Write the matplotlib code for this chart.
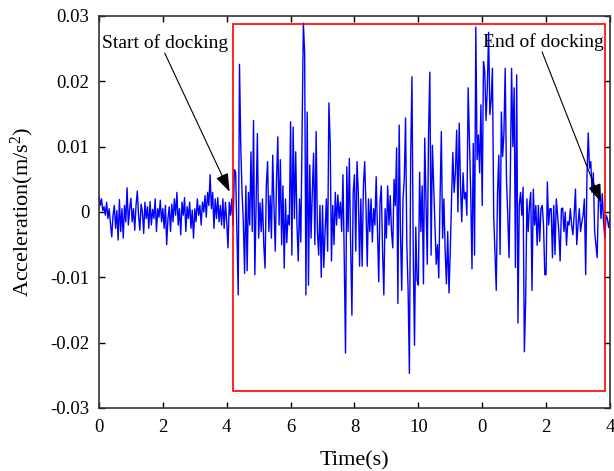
import matplotlib
matplotlib.use('Agg')
import matplotlib.pyplot as plt
from matplotlib.patches import Rectangle
import numpy as np

plt.rcParams['font.family'] = ['Liberation Serif', 'DejaVu Serif']
plt.rcParams['mathtext.fontset'] = 'custom'
plt.rcParams['mathtext.rm'] = 'Liberation Serif'
plt.rcParams['mathtext.it'] = 'Liberation Serif:italic'

# acceleration samples in 1e-3 m/s^2, dt = 0.04 s, one line per second
accel_milli = [
    2.5, 1.0, 2.0, 0.2, 0.8, -0.5, 1.5, -1.0, 0.5, -1.8, -3.8, -0.5, 1.0, -2.5, 0.2, -4.3, 1.9, -3.0, 0.5, -4.0, 1.0, -1.5, 3.7, -2.0, 0.5,
    2.1, -1.5, 0.5, -2.8, 1.0, 3.2, -0.5, -2.8, 1.2, 0.0, -3.3, 1.5, -1.0, 0.8, -2.5, 1.6, -2.0, 0.4, -1.0, 2.0, -3.0, 0.5, -0.8, 1.8, -1.5,
    0.5, -2.5, 1.0, -5.0, -1.0, 0.8, -3.0, 1.2, -1.5, 2.0, -0.5, 3.0, -2.0, 0.5, -3.5, 1.5, -0.5, 2.2, -3.0, 0.8, -1.0, 1.5, -2.5, 0.3, -4.0,
    0.5, -1.5, 2.0, -0.5, 1.0, -2.0, 1.5, 0.0, 2.5, -0.8, 3.0, 1.0, 5.7, 0.5, 3.0, -2.5, 2.0, -1.0, 2.2, -1.5, 1.0, -2.0, 2.0, -2.5, 1.5,
    -1.5, -5.5, 1.5, -0.5, 2.0, -2.0, 6.5, 6.0, -3.0, -12.7, 22.6, 10.0, 3.0, -1.5, -9.4, 4.0, -9.0, 3.0, -2.0, 9.2, -3.0, 14.0, -9.6, 1.0, 12.0,
    -4.0, 1.4, -3.0, 2.0, -5.0, -8.6, 4.0, 7.7, -3.0, 2.5, -4.0, 8.7, 1.0, -6.0, 5.0, 11.5, -2.0, 8.0, -5.0, 4.0, -8.6, 2.0, -4.7, -0.5, -2.0,
    13.8, -6.6, 13.0, -1.0, 9.2, -2.0, -7.5, 2.0, -4.6, 12.2, 28.9, 24.3, -12.7, 15.3, -11.2, 7.2, -4.0, 3.0, 9.0, -5.0, 12.3, -3.0, -6.6, 1.0, -10.0,
    1.0, -8.5, -3.0, 2.0, -6.0, 16.7, 10.6, -7.5, 1.0, -5.0, 3.0, -2.0, 2.6, -1.0, 1.5, -3.0, 5.7, -7.0, -21.6, 6.9, -3.0, 8.2, -5.0, -15.8, 3.0,
    5.7, -6.0, 7.7, 3.0, -8.3, 2.0, -8.3, 4.0, 7.7, 1.0, -8.3, 2.0, -3.0, 2.0, -4.6, 0.5, -2.0, 5.4, -3.0, -10.7, 1.5, 4.0, -6.0, -12.7, 0.5,
    -4.0, 4.0, -2.0, 2.5, -3.0, -5.5, 5.0, 1.0, 9.8, -14.0, 13.3, -3.0, -12.0, 2.0, 5.0, 14.4, -5.0, -12.0, -24.7, 8.3, 20.7, -6.0, -20.4, -2.3, -10.5,
    -11.2, 6.1, -3.0, 4.0, -11.0, 11.3, 2.0, -8.0, 12.2, 21.4, -6.6, 10.2, 4.0, -2.0, -8.0, -5.0, -10.1, 2.0, 12.3, -4.0, 2.0, -6.0, -11.0, -3.0, -12.4,
    -6.0, 2.0, 9.1, 3.0, 6.0, 12.5, 0.0, 13.6, 4.0, -1.5, 6.0, 2.0, 3.0, -0.5, 19.0, 11.0, 3.0, -8.7, 10.5, -6.6, 28.3, 8.0, 11.8, 6.0, 16.4,
    1.0, 23.0, 21.4, 14.0, 19.0, 27.5, 14.9, 17.0, 22.0, -0.5, -6.3, -12.0, 3.0, 8.7, -6.5, 15.3, 8.5, 12.0, 22.0, 5.0, -0.5, -7.0, 5.2, 22.0, 10.0,
    19.0, -8.5, 21.0, -17.0, 1.0, 3.0, -0.5, 3.8, -21.4, -13.8, 2.0, -3.0, 1.0, 3.0, -12.0, 3.5, -2.0, 1.0, -5.1, 1.0, -4.5, 0.5, 1.0, -2.0, -9.6,
    -9.6, 4.6, -2.0, 0.5, 0.5, -7.0, 1.0, -6.5, 2.0, -0.5, -3.0, -7.5, 0.5, 0.6, -3.0, 0.0, -5.1, -1.5, -2.0, 0.5, -2.0, -3.5, -0.5, 3.5, -5.0,
    -2.0, 0.5, -3.0, -1.5, -0.5, 2.0, -9.6, 5.4, 12.1, 6.7, 7.7, 3.0, 6.0, -3.0, -5.0, -7.0, 2.0, 2.5, -1.0, 2.8, -1.5, -4.0, -0.5, -1.0, -2.4,
    -1.0,
]
dt = 0.04
accel = np.array(accel_milli) * 1e-3
t = np.arange(len(accel)) * dt

# docking window
dock_start, dock_end = 4.19, 15.83
box_low, box_high = -0.0274, 0.0287

xtick_pos = [0, 2, 4, 6, 8, 10, 12, 14, 16]
xtick_labels = ['0', '2', '4', '6', '8', '10', '0', '2', '4']
ytick_pos = [-0.03, -0.02, -0.01, 0, 0.01, 0.02, 0.03]
ytick_labels = ['-0.03', '-0.02', '-0.01', '0', '0.01', '0.02', '0.03']

fig = plt.figure(figsize=(6.14, 4.71), dpi=100)
ax = fig.add_axes([0.1612, 0.1338, 0.8322, 0.8323])

ax.plot(t, accel, color='#0000ff', linewidth=1.0, zorder=2)
ax.add_patch(Rectangle((dock_start, box_low), dock_end - dock_start, box_high - box_low,
                       fill=False, edgecolor='#ff0000', linewidth=1.2, zorder=3))

arrow = dict(arrowstyle='-|>,head_length=0.7,head_width=0.25', color='black', lw=0.8,
             mutation_scale=16, shrinkA=0, shrinkB=0)
ax.annotate('', xy=(4.09, 0.0031), xytext=(2.06, 0.0243), arrowprops=arrow, zorder=5)
ax.text(0.08, 0.0259, 'Start of docking', fontsize=14, va='center', ha='left', zorder=4)
ax.annotate('', xy=(15.72, 0.0015), xytext=(13.875, 0.0245), arrowprops=arrow, zorder=5)
ax.text(12.03, 0.026, 'End of docking', fontsize=14, va='center', ha='left', zorder=4)

ax.set_xlim(0, 16)
ax.set_ylim(-0.03, 0.03)
ax.set_xticks(xtick_pos)
ax.set_xticklabels(xtick_labels)
ax.set_yticks(ytick_pos)
ax.set_yticklabels(ytick_labels)
ax.tick_params(direction='in', length=4.5, width=1, top=True, right=True, labelsize=13.5)
ax.tick_params(axis='x', pad=8)
ax.tick_params(axis='y', pad=7)
for s in ax.spines.values():
    s.set_linewidth(1.2)
    s.set_color('#333333')

ax.set_xlabel('Time(s)', fontsize=16, labelpad=11)
ax.set_ylabel('Acceleration(m/s$^2$)', fontsize=16, labelpad=10)

fig.savefig('out.png', dpi=100)
